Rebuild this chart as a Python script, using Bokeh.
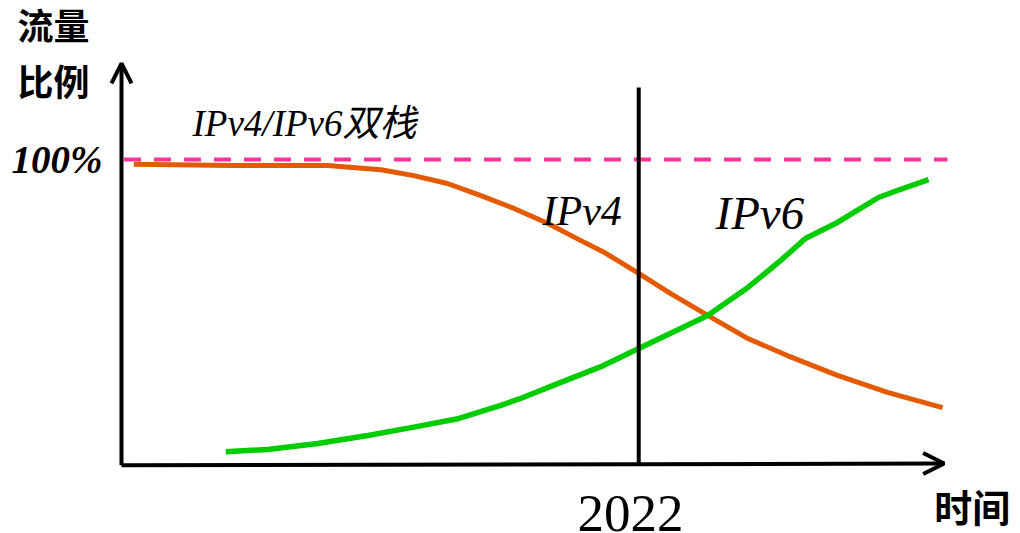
from bokeh.plotting import figure
from bokeh.models import Range1d, Arrow, OpenHead
from bokeh.core.properties import value
from bokeh.embed import file_html
from bokeh.resources import INLINE

# ---- data (time index 0..100 along the x-axis, traffic share in %) ----
ipv4_t = [1.5, 13.6, 25.1, 31.6, 35.6, 39.7, 43.7, 47.8, 51.9, 55.9, 58.7, 63.0, 66.9, 71.4, 76.3, 81.1, 87.2, 93.3, 100.0]
ipv4_share = [98.4, 98.0, 98.0, 96.6, 94.7, 92.1, 88.2, 83.9, 79.0, 73.4, 69.6, 62.5, 55.9, 48.7, 41.1, 35.5, 29.0, 23.4, 18.4]

ipv6_t = [12.7, 17.8, 23.9, 30.0, 36.1, 41.1, 46.2, 48.6, 52.6, 58.7, 63.0, 68.1, 71.4, 76.3, 80.3, 83.3, 87.2, 92.2, 94.5, 98.3]
ipv6_share = [3.9, 4.6, 6.6, 9.2, 12.2, 14.8, 19.1, 21.4, 25.7, 32.2, 37.8, 44.4, 48.7, 57.9, 66.8, 74.0, 79.3, 87.5, 89.8, 93.4]

full_share = 100          # dual-stack reference line
year_t = 63.0             # position of 2022 on the time axis
year_label = "2022"
axis_end_t = 100.2
y_axis_top = 131.6
year_line_top = 123.7

SERIF = "'Liberation Serif', 'Times New Roman', 'Noto Sans CJK SC', serif"
CJK = "'Noto Sans CJK SC', sans-serif"

p = figure(width=1020, height=533, output_backend="svg", toolbar_location=None,
           x_axis_type=None, y_axis_type=None, min_border=0,
           x_range=Range1d(-14.738, 109.501), y_range=Range1d(-23.03, 152.30))
p.grid.visible = False
p.outline_line_color = None
p.background_fill_color = "white"
p.border_fill_color = "white"

# dashed 100% line
p.line([0.3, 100.6], [full_share, full_share], line_color="#FF3399", line_width=4, line_dash="17 13")

# curves
p.line(ipv4_t, ipv4_share, line_color="#E35A00", line_width=5, line_join="round")
p.line(ipv6_t, ipv6_share, line_color="#00CC00", line_width=5.5, line_join="round")

# 2022 vertical line
p.line([year_t, year_t], [-0.5, year_line_top], line_color="black", line_width=4)

# axes with open arrowheads
p.add_layout(Arrow(end=OpenHead(size=21, line_width=4, line_color="black"),
                   x_start=0, y_start=-0.6, x_end=axis_end_t, y_end=0,
                   line_width=4, line_color="black"))
p.add_layout(Arrow(end=OpenHead(size=20, line_width=4, line_color="black"),
                   x_start=0, y_start=-0.6, x_end=0, y_end=y_axis_top,
                   line_width=4, line_color="black"))

# texts
p.text(x=[-12.67], y=[144.7], text=["流量"], text_font=value(CJK), text_font_style="bold",
       text_font_size="36px", text_baseline="middle", text_align="left", text_color="black")
p.text(x=[-12.67], y=[126.3], text=["比例"], text_font=value(CJK), text_font_style="bold",
       text_font_size="36px", text_baseline="middle", text_align="left", text_color="black")
p.text(x=[99.0], y=[-13.82], text=["时间"], text_font=value(CJK), text_font_style="bold",
       text_font_size="38px", text_baseline="middle", text_align="left", text_color="black")
p.text(x=[-13.4], y=[100.16], text=["100%"], text_font=value(SERIF), text_font_style="bold italic",
       text_font_size="39px", text_baseline="middle", text_align="left", text_color="black")
p.text(x=[8.65], y=[111.84], text=["IPv4/IPv6双栈"], text_font=value(SERIF), text_font_style="italic",
       text_font_size="37px", text_baseline="middle", text_align="left", text_color="black")
p.text(x=[51.28], y=[83.22], text=["IPv4"], text_font=value(SERIF), text_font_style="italic",
       text_font_size="42px", text_baseline="middle", text_align="left", text_color="black")
p.text(x=[72.35], y=[82.24], text=["IPv6"], text_font=value(SERIF), text_font_style="italic",
       text_font_size="47px", text_baseline="middle", text_align="left", text_color="black")
p.text(x=[62.0], y=[-16.45], text=[year_label], text_font=value(SERIF),
       text_font_size="53px", text_baseline="middle", text_align="center", text_color="black")

open("out.html", "w").write(file_html(p, INLINE))
